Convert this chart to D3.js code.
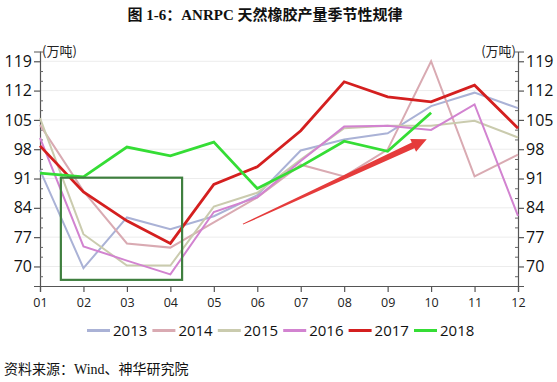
<!DOCTYPE html>
<html><head><meta charset="utf-8">
<script src="https://cdn.jsdelivr.net/npm/d3@7"></script>
<style>body{margin:0;background:#fff}svg{display:block}</style>
</head><body>
<script>
const months = ["01","02","03","04","05","06","07","08","09","10","11","12"];
const years = ["2013","2014","2015","2016","2017","2018"];
const s2013 = [93, 69.6, 81.7, 78.9, 82, 87, 97.7, 100.3, 101.8, 108.3, 111.5, 107.8];
const s2014 = [103.8, 88, 75.5, 74.5, 80.5, 86.5, 94.3, 91.5, 97.9, 119, 91.5, 96.7];
const s2015 = [105.4, 77.7, 70.2, 70.2, 84.3, 87.6, 95.5, 103, 103.6, 103.6, 104.8, 100.8];
const s2016 = [100.7, 74.8, 71.4, 68.1, 83, 86.5, 95.2, 103.4, 103.6, 102.6, 108.7, 82.1];
const s2017 = [98.8, 87.8, 80.9, 75.5, 89.6, 93.8, 102.4, 114.1, 110.5, 109.3, 113.3, 103];
const s2018 = [92.3, 91.4, 98.5, 96.4, 99.7, 88.6, 93.9, 99.9, 97.5, 106.7];
const yTicks = [70, 77, 84, 91, 98, 105, 112, 119];
const colors = ["#aab2d6", "#d9aab2", "#cacbae", "#d283d0", "#d41f1f", "#35dd35"];
const widths = [2, 2, 2, 2, 2.8, 2.8];
const series = [s2013, s2014, s2015, s2016, s2017, s2018];
const titleText = "图 1-6：ANRPC 天然橡胶产量季节性规律";
const unitText = "(万吨)";
const sourceText = "资料来源：Wind、神华研究院";
// annotation box (month, value) and arrow (month, value)
const boxMonths = [1.48, 4.27], boxValues = [91.2, 66.8];
const arrowFrom = [5.67, 80.1], arrowTo = [9.9, 100.4];

const W = 557, H = 382;
const svg = d3.select("body").append("svg").attr("width", W).attr("height", H);
svg.append("rect").attr("width", W).attr("height", H).attr("fill", "#fff");

const x = d3.scaleLinear().domain([1, 12]).range([40, 518]);
const y = d3.scaleLinear().domain([65.333, 121.333]).range([286, 51.5]);

// grid
svg.append("g").selectAll("line").data(yTicks).join("line")
  .attr("x1", 40).attr("x2", 518).attr("y1", d => y(d)).attr("y2", d => y(d))
  .attr("stroke", "#ececec").attr("stroke-width", 1);

const minor = d3.range(65.333 + 7/3 - 1e-6, 121.4, 7/3).filter(v => yTicks.every(t => Math.abs(t - v) > 0.1));
const axisFont = "'Open Sans','Noto Sans',sans-serif";

function yAxis(g, orient) {
  const ax = (orient === "left" ? d3.axisLeft(y) : d3.axisRight(y)).tickValues(yTicks).tickSize(6).tickPadding(2);
  g.call(ax);
  g.select(".domain").attr("stroke", "#555").attr("stroke-width", 1.2);
  g.selectAll(".tick line").attr("stroke", "#555").attr("stroke-width", 1.2);
  g.selectAll(".tick text").attr("font-family", axisFont).attr("font-size", 16).attr("fill", "#111");
  const ax2 = (orient === "left" ? d3.axisLeft(y) : d3.axisRight(y)).tickValues(minor).tickSize(-3).tickFormat("");
  const gm = g.append("g").call(ax2);
  gm.select(".domain").remove();
  gm.selectAll(".tick line").attr("stroke", "#666").attr("stroke-width", 1);
}
svg.append("g").attr("transform", "translate(40,0)").call(g => yAxis(g, "left"));
svg.append("g").attr("transform", "translate(518,0)").call(g => yAxis(g, "right"));

const gx = svg.append("g").attr("transform", "translate(0,286)")
  .call(d3.axisBottom(x).tickValues(d3.range(1, 13)).tickFormat(d => months[d - 1]).tickSize(6).tickPadding(6));
gx.select(".domain").attr("stroke", "#555").attr("stroke-width", 1.2);
gx.selectAll(".tick line").attr("stroke", "#555").attr("stroke-width", 1.2);
gx.selectAll(".tick text").attr("font-family", axisFont).attr("font-size", 12.5).attr("fill", "#222");

// units
svg.append("text").attr("x", 42).attr("y", 56).text(unitText)
  .attr("font-family", "'Noto Sans CJK SC',sans-serif").attr("font-size", 13).attr("fill", "#222");
svg.append("text").attr("x", 516).attr("y", 56).attr("text-anchor", "end").text(unitText)
  .attr("font-family", "'Noto Sans CJK SC',sans-serif").attr("font-size", 13).attr("fill", "#222");

// lines
const line = d3.line().x((d, i) => x(i + 1)).y(d => y(d));
series.forEach((s, k) => {
  svg.append("path").datum(s).attr("d", line).attr("fill", "none")
    .attr("stroke", colors[k]).attr("stroke-width", widths[k]).attr("stroke-linejoin", "miter");
});

// annotation box
svg.append("rect").attr("x", x(boxMonths[0])).attr("y", y(boxValues[0]))
  .attr("width", x(boxMonths[1]) - x(boxMonths[0])).attr("height", y(boxValues[1]) - y(boxValues[0]))
  .attr("fill", "none").attr("stroke", "#3f7f3f").attr("stroke-width", 2.2);

// arrow
(function () {
  const x0 = x(arrowFrom[0]), y0 = y(arrowFrom[1]), x1 = x(arrowTo[0]), y1 = y(arrowTo[1]);
  const L = Math.hypot(x1 - x0, y1 - y0), ux = (x1 - x0) / L, uy = (y1 - y0) / L, px = -uy, py = ux;
  const headL = 15, headW = 7, neckW = 3.2, tailW = 0.5;
  const nx = x1 - ux * headL, ny = y1 - uy * headL;
  const pts = [
    [x0 + px * tailW, y0 + py * tailW], [nx + px * neckW, ny + py * neckW], [nx + px * headW, ny + py * headW],
    [x1, y1], [nx - px * headW, ny - py * headW], [nx - px * neckW, ny - py * neckW], [x0 - px * tailW, y0 - py * tailW]
  ];
  svg.append("path").attr("d", "M" + pts.map(p => p.join(",")).join("L") + "Z").attr("fill", "#e53b3b");
})();

// title
svg.append("text").attr("x", 265).attr("y", 20).attr("text-anchor", "middle").text(titleText)
  .attr("font-family", "'Liberation Serif','Noto Sans CJK SC',serif").attr("font-weight", "bold").attr("font-size", 15).attr("fill", "#111");

// legend
const lg = svg.append("g");
years.forEach((yr, i) => {
  const lx = 87 + i * 65.4;
  lg.append("line").attr("x1", lx).attr("x2", lx + 23).attr("y1", 330.5).attr("y2", 330.5)
    .attr("stroke", colors[i]).attr("stroke-width", 3);
  lg.append("text").attr("x", lx + 26).attr("y", 336).text(yr)
    .attr("font-family", axisFont).attr("font-size", 15).attr("fill", "#111");
});

// source
svg.append("text").attr("x", 4).attr("y", 374).text(sourceText)
  .attr("font-family", "'Liberation Serif','Noto Sans CJK SC',serif").attr("font-size", 14).attr("fill", "#111");
</script>
</body></html>
